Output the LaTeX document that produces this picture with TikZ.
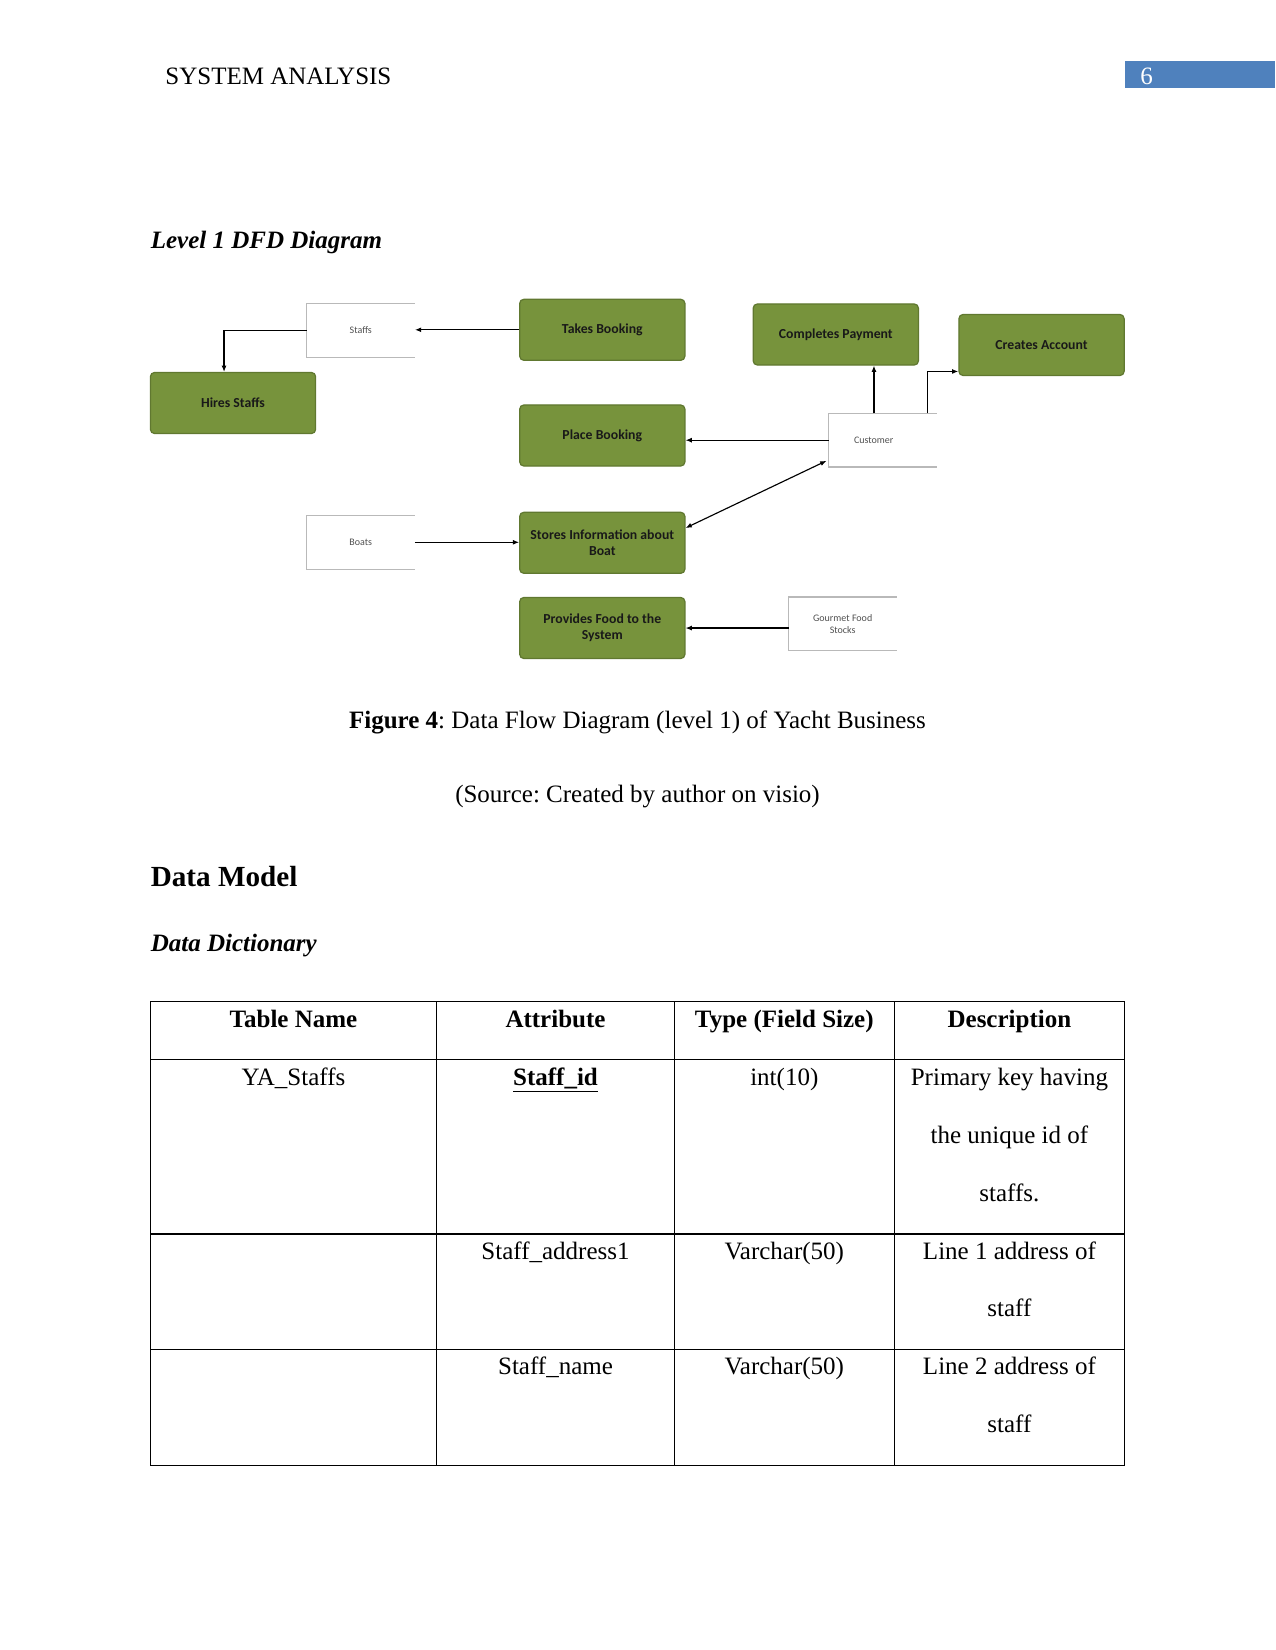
\documentclass[tikz,border=0pt]{standalone}
\usepackage{fontspec}
\setmainfont{Liberation Serif}
\newfontfamily\dfdfont{Carlito}
\usetikzlibrary{arrows.meta}
\frenchspacing
\definecolor{procgreen}{RGB}{119,147,60}
\definecolor{procedge}{RGB}{96,120,48}
\definecolor{storeedge}{RGB}{185,185,185}
\definecolor{storetext}{RGB}{80,80,80}
\definecolor{hdrblue}{RGB}{79,129,189}
\tikzset{
  proc/.style={draw=procedge, line width=0.6pt, fill=procgreen, rounded corners=2pt,
    minimum width=79.3pt, minimum height=29.3pt, inner sep=1pt, align=center,
    font=\dfdfont\bfseries\fontsize{6.6}{7.7}\selectfont, text=black!90},
  store/.style={minimum width=51.6pt, minimum height=25.4pt, inner sep=1pt, align=center,
    font=\dfdfont\fontsize{4.8}{5.8}\selectfont, text=storetext},
  storeline/.style={draw=storeedge, line width=0.6pt},
  arr/.style={draw=black, line width=0.55pt, -{Latex[length=3pt,width=2.4pt]}},
  darr/.style={draw=black, line width=0.55pt, {Latex[length=3pt,width=2.4pt]}-{Latex[length=3pt,width=2.4pt]}},
  body/.style={font=\fontsize{12}{14}\selectfont, anchor=mid, inner sep=0pt, yshift=-1.6pt},
  cell/.style={font=\fontsize{12}{14}\selectfont, anchor=mid, inner sep=0pt, yshift=-1.6pt},
  grid/.style={draw=black, line width=0.6pt}
}
\begin{document}
\begin{tikzpicture}[x=0.48pt,y=-0.48pt]
\useasboundingbox (0,0) rectangle (1275,1650);
% header
\node[body, anchor=mid west] (hdr) at (165,76) {SYSTEM ANALYSIS};
\fill[hdrblue] (1124.6,61) rectangle (1275,88.4);
\node[body, anchor=mid west, text=white] (pg) at (1140,76) {6};
\node[body, anchor=mid west] (lvl) at (150.4,240) {\textbf{\textit{Level 1 DFD Diagram}}};

% processes
\node[proc] (takes) at (602.3,329.8) {Takes Booking};
\node[proc] (completes) at (835.8,334.5) {Completes Payment};
\node[proc] (creates) at (1041.5,345) {Creates Account};
\node[proc] (hires) at (233,403) {Hires Staffs};
\node[proc] (place) at (602.3,435.5) {Place Booking};
\node[proc] (stores) at (602.3,542.8) {Stores Information about\\Boat};
\node[proc] (provides) at (602.3,628) {Provides Food to the\\System};

% data stores
\node[store] (staffs) at (360.8,330.3) {Staffs};
\node[store] (customer) at (882.7,440.2) {Customer\hspace*{8.6pt}};
\node[store] (boats) at (360.8,542.3) {Boats};
\node[store] (gourmet) at (842.7,623.9) {Gourmet Food\\Stocks};
\foreach \s in {staffs,customer,boats,gourmet}{
  \draw[storeline] (\s.north east) -- (\s.north west) -- (\s.south west) -- (\s.south east);
}

% connectors
\draw[arr] (takes.west) -- (takes.west -| staffs.east);
\coordinate (hiresin) at ([xshift=-4.3pt]hires.north);
\draw[arr] (staffs.west) -| (hiresin);
\coordinate (custup) at ([xshift=-4.2pt]customer.north);
\draw[arr] (custup) -- (custup |- completes.south);
\coordinate (custacc) at ([xshift=21.7pt]customer.north);
\coordinate (accin) at ([yshift=-12.7pt]creates.west);
\draw[arr] (custacc) |- (accin);
\draw[arr] (customer.west) -- (customer.west -| place.east);
\coordinate (storesout) at ([yshift=7.1pt]stores.east);
\coordinate (custin) at ([xshift=-1pt,yshift=3pt]customer.south west);
\draw[darr] (storesout) -- (custin);
\draw[arr] (boats.east) -- (boats.east -| stores.west);
\coordinate (gourout) at ([yshift=-2pt]gourmet.west);
\draw[arr] (gourout) -- (gourout -| provides.east);

% caption
\node[body] (cap) at (637.5,720) {\textbf{Figure 4}: Data Flow Diagram (level 1) of Yacht Business};
\node[body] (src) at (637.5,794) {(Source: Created by author on visio)};
\node[body, anchor=mid west, font=\fontsize{14}{16}\selectfont] (dm) at (150.4,878) {\textbf{Data Model}};
\node[body, anchor=mid west] (dd) at (150.4,943) {\textbf{\textit{Data Dictionary}}};

% table grid
\draw[grid] (150.4,1001.5) rectangle (1124.6,1465.4);
\foreach \x in {436.6,674.3,894.2} \draw[grid] (\x,1001.5) -- (\x,1465.4);
\foreach \y in {1059.4,1234,1349.7} \draw[grid] (150.4,\y) -- (1124.6,\y);

% table text
\node[cell] (h1) at (293.5,1019) {\textbf{Table Name}};
\node[cell] (h2) at (555.5,1019) {\textbf{Attribute}};
\node[cell] (h3) at (784.3,1019) {\textbf{Type (Field Size)}};
\node[cell] (h4) at (1009.4,1019) {\textbf{Description}};
\node[cell] (r1a) at (293.5,1077) {YA\_Staffs};
\node[cell] (r1b) at (555.5,1077) {\underline{\textbf{Staff\_id}}};
\node[cell] (r1c) at (784.3,1077) {int(10)};
\node[cell] (r1d1) at (1009.4,1077) {Primary key having};
\node[cell] (r1d2) at (1009.4,1135) {the unique id of};
\node[cell] (r1d3) at (1009.4,1193) {staffs.};
\node[cell] (r2b) at (555.5,1251.5) {Staff\_address1};
\node[cell] (r2c) at (784.3,1251.5) {Varchar(50)};
\node[cell] (r2d1) at (1009.4,1251.5) {Line 1 address of};
\node[cell] (r2d2) at (1009.4,1308.5) {staff};
\node[cell] (r3b) at (555.5,1366.5) {Staff\_name};
\node[cell] (r3c) at (784.3,1366.5) {Varchar(50)};
\node[cell] (r3d1) at (1009.4,1366.5) {Line 2 address of};
\node[cell] (r3d2) at (1009.4,1424) {staff};
\end{tikzpicture}
\end{document}
